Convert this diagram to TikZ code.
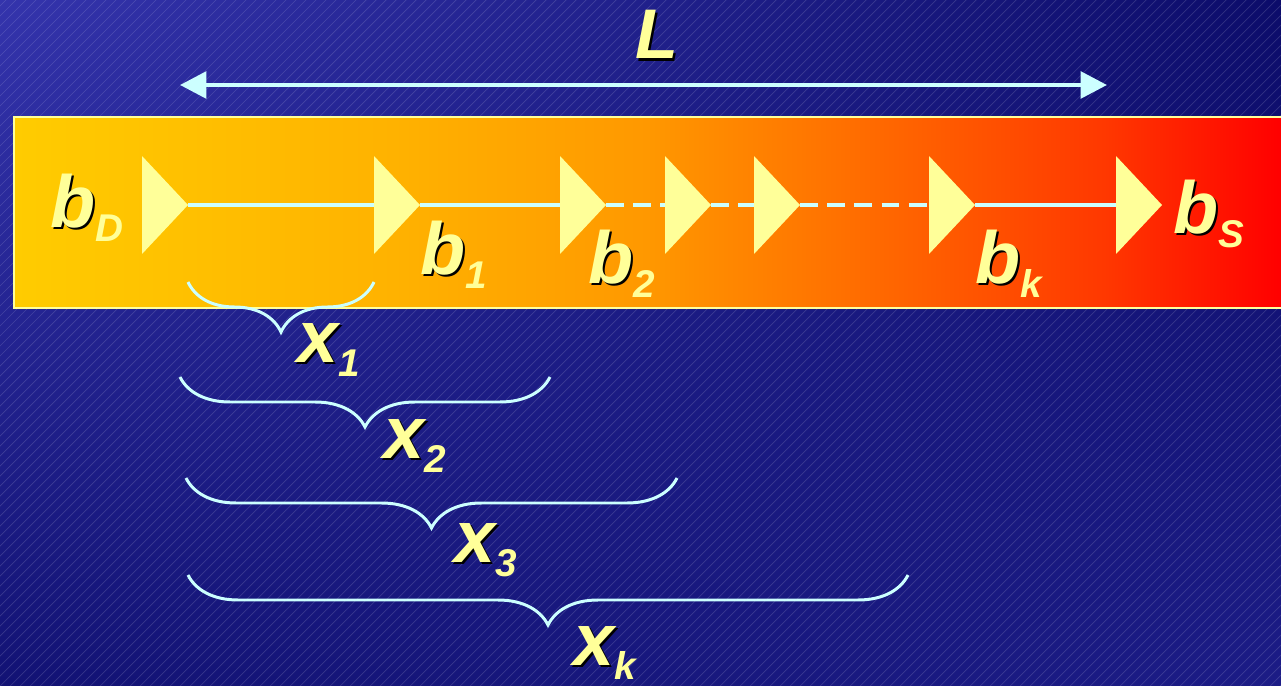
\documentclass[tikz,border=0pt]{standalone}
\usepackage{fontspec}
\setmainfont{Liberation Sans}
\usetikzlibrary{arrows.meta, shapes.geometric, decorations.pathreplacing, shadings}

\definecolor{pale}{HTML}{FFFF99}
\definecolor{ice}{HTML}{CCFFFF}
\definecolor{bgUL}{HTML}{3434AC}
\definecolor{bgUR}{HTML}{0C0C6A}
\definecolor{bgLL}{HTML}{121274}
\definecolor{bgLR}{HTML}{1C1C86}
\definecolor{bandA}{HTML}{FFCC00}
\definecolor{bandB}{HTML}{FFB200}
\definecolor{bandC}{HTML}{FF9800}
\definecolor{bandD}{HTML}{FF6400}
\definecolor{bandE}{HTML}{FF3800}
\definecolor{bandF}{HTML}{FF0000}

\pgfdeclarehorizontalshading{band}{100bp}{color(0bp)=(bandA); color(25bp)=(bandA);
  color(40bp)=(bandB); color(50bp)=(bandC); color(60bp)=(bandD);
  color(68bp)=(bandE); color(75bp)=(bandF); color(100bp)=(bandF)}

% yellow letter with a black drop shadow
\newcommand\shtxt[1]{\rlap{\kern1.3pt\raisebox{-1.3pt}{\color{black}#1}}#1}
\newcommand\lbl[2]{\shtxt{#1}\raisebox{-8pt}{\fontsize{22}{22}\selectfont #2}}

\begin{document}
\begin{tikzpicture}[
    x=0.02cm, y=-0.02cm,
    >={Triangle[length=15pt, width=15pt]},
    tri/.style={isosceles triangle, isosceles triangle stretches, fill=pale,
                minimum width=1.96cm, minimum height=0.92cm,
                inner sep=0pt, outer sep=0pt, anchor=west},
    link/.style={ice, line width=1.9pt},
    dlink/.style={link, dash pattern=on 10pt off 5.5pt},
    xbrace/.style={decorate, decoration={brace, amplitude=1cm, mirror},
                   ice, line width=1.7pt},
    sym/.style={text=pale, font=\fontsize{42}{42}\selectfont\bfseries\itshape,
                inner sep=0pt, anchor=base west},
    hatch/.style={white, opacity=0.15, line width=0.4pt}
  ]
  \useasboundingbox (0,0) rectangle (1281,686);

  % background
  \shade[upper left=bgUL, upper right=bgUR, lower left=bgLL, lower right=bgLR]
    (0,0) rectangle (1281,686);
  \begin{scope}
    \clip (0,0) rectangle (1281,686);
    \foreach \i in {-700,-690,...,1280}
      \draw[hatch] (\i,686) -- ++(700,-700);
  \end{scope}

  % the band
  \shade[shading=band] (14,117) rectangle (1281,308);
  \draw[pale, line width=1.1pt] (1282,117) -- (14,117) -- (14,308) -- (1282,308);

  % length L
  \coordinate (La) at (180,85);
  \coordinate (Lb) at (1107,85);
  \draw[ice, line width=2.6pt, <->] (La) -- (Lb);
  \node[sym, font=\fontsize{40}{40}\selectfont\bfseries\itshape] (len) at (635,59) {\shtxt{L}};

  % triangles
  \node[tri] (t0) at (142,205) {};
  \node[tri] (t1) at (374,205) {};
  \node[tri] (t2) at (560,205) {};
  \node[tri] (t3) at (665,205) {};
  \node[tri] (t4) at (754,205) {};
  \node[tri] (tk) at (929,205) {};
  \node[tri] (ts) at (1116,205) {};

  \draw[link]  (t0.apex) -- (t1.west);
  \draw[link]  (t1.apex) -- (t2.west);
  \draw[dlink] (t2.apex) -- (t3.west);
  \draw[dlink] (t3.apex) -- (t4.west);
  \draw[dlink] (t4.apex) -- (tk.west);
  \draw[link]  (tk.apex) -- (ts.west);

  \node[sym] (bD) at (50,227)   {\lbl{b}{D}};
  \node[sym] (b1) at (420,274)  {\lbl{b}{1}};
  \node[sym] (b2) at (588,283)  {\lbl{b}{2}};
  \node[sym] (bk) at (975,283)  {\lbl{b}{k}};
  \node[sym] (bS) at (1173,233) {\lbl{b}{S}};

  % braces
  \coordinate (x1a) at (188,282); \coordinate (x1b) at (374,282);
  \coordinate (x2a) at (180,377); \coordinate (x2b) at (550,377);
  \coordinate (x3a) at (186,478); \coordinate (x3b) at (677,478);
  \coordinate (xka) at (188,575); \coordinate (xkb) at (908,575);
  \draw[xbrace] (x1a) -- (x1b);
  \draw[xbrace] (x2a) -- (x2b);
  \draw[xbrace] (x3a) -- (x3b);
  \draw[xbrace] (xka) -- (xkb);

  \node[sym] (x1) at (297,362) {\lbl{x}{1}};
  \node[sym] (x2) at (383,458) {\lbl{x}{2}};
  \node[sym] (x3) at (454,562) {\lbl{x}{3}};
  \node[sym] (xk) at (573,665) {\lbl{x}{k}};
\end{tikzpicture}
\end{document}
